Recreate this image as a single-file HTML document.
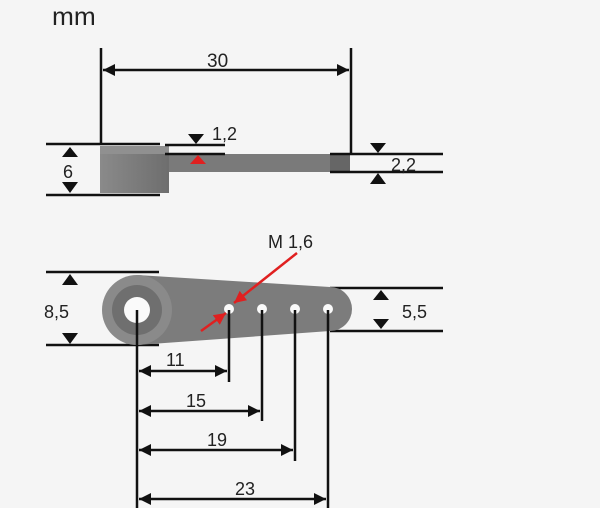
<!DOCTYPE html>
<html><head><style>
html,body{margin:0;padding:0;background:#f5f5f5;}
svg{display:block;}
text{font-family:"Liberation Sans",sans-serif;fill:#222;}
</style></head><body>
<svg width="600" height="508" viewBox="0 0 600 508" xmlns="http://www.w3.org/2000/svg">
<defs>
<marker id="ab" viewBox="0 0 10 10" refX="10" refY="5" markerWidth="12" markerHeight="12" orient="auto-start-reverse" markerUnits="userSpaceOnUse"><path d="M0,0 L10,5 L0,10 z" fill="#111"/></marker>
<marker id="rr" viewBox="0 0 10 10" refX="10" refY="5" markerWidth="12" markerHeight="12" orient="auto" markerUnits="userSpaceOnUse"><path d="M0,0 L10,5 L0,10 z" fill="#e02020"/></marker>
<linearGradient id="gb" x1="0" x2="1"><stop offset="0" stop-color="#8a8a8a"/><stop offset="1" stop-color="#6e6e6e"/></linearGradient>
</defs>
<rect width="600" height="508" fill="#f5f5f5"/>
<text x="52" y="25" font-size="25" transform="scale(1.05,1)" style="transform-origin:52px 25px">mm</text>

<g stroke="#111" stroke-width="2.5" fill="none">
<line x1="101" y1="48" x2="101" y2="143"/>
<line x1="351" y1="48" x2="351" y2="155"/>
<line x1="103" y1="70" x2="349" y2="70" marker-start="url(#ab)" marker-end="url(#ab)"/>
</g>
<text x="207" y="67" font-size="19">30</text>

<rect x="165" y="154" width="185" height="18" fill="#7a7a7a"/>
<rect x="330" y="154" width="20" height="18" fill="#666"/>
<rect x="100" y="146" width="69" height="47" fill="url(#gb)"/>
<rect x="100" y="146" width="69" height="8" fill="#909090"/>
<g stroke="#111" stroke-width="2.5">
<line x1="46" y1="144" x2="160" y2="144"/>
<line x1="46" y1="195" x2="160" y2="195"/>
<line x1="165" y1="145" x2="225" y2="145"/>
<line x1="165" y1="154" x2="225" y2="154"/>
<line x1="330" y1="154" x2="443" y2="154"/>
<line x1="330" y1="172" x2="443" y2="172"/>
<line x1="46" y1="272" x2="159" y2="272"/>
<line x1="46" y1="345" x2="159" y2="345"/>
<line x1="330" y1="288" x2="443" y2="288"/>
<line x1="330" y1="331" x2="443" y2="331"/>
</g>
<g fill="#111">
<path d="M62,157 L78,157 L70,147 z"/>
<path d="M62,182 L78,182 L70,193 z"/>
<path d="M188,134 L204,134 L196,144 z"/>
<path d="M370,143 L386,143 L378,153 z"/>
<path d="M370,184 L386,184 L378,173 z"/>
<path d="M62,285 L78,285 L70,274 z"/>
<path d="M62,333 L78,333 L70,344 z"/>
<path d="M373,300 L389,300 L381,290 z"/>
<path d="M373,319 L389,319 L381,329 z"/>
</g>
<path d="M190,164 L206,164 L198,155 z" fill="#e02020"/>
<text x="212" y="140" font-size="18">1,2</text>
<text x="391" y="171" font-size="18">2,2</text>
<text x="63" y="178" font-size="18">6</text>

<path d="M137,275 L330,287 A22,22 0 0 1 330,331 L137,345 z" fill="#7c7c7c"/>
<circle cx="137" cy="310" r="35" fill="#8a8a8a"/>
<circle cx="137" cy="310" r="25" fill="#6f6f6f"/>
<circle cx="137" cy="310" r="13" fill="#fafafa"/>
<g fill="#fafafa"><circle cx="229" cy="309" r="5"/><circle cx="262" cy="309" r="5"/><circle cx="295" cy="309" r="5"/><circle cx="328" cy="309" r="5"/></g>
<text x="44" y="318" font-size="18">8,5</text>
<text x="402" y="318" font-size="18">5,5</text>
<text x="268" y="248" font-size="18">M 1,6</text>
<line x1="297" y1="253" x2="234" y2="303" stroke="#e02020" stroke-width="2.5" marker-end="url(#rr)"/>
<line x1="201" y1="331" x2="226" y2="313" stroke="#e02020" stroke-width="2.5" marker-end="url(#rr)"/>

<g stroke="#111" stroke-width="2.5" fill="none">
<line x1="137" y1="310" x2="137" y2="508"/>
<line x1="229" y1="310" x2="229" y2="382"/>
<line x1="262" y1="310" x2="262" y2="421"/>
<line x1="295" y1="310" x2="295" y2="461"/>
<line x1="328" y1="310" x2="328" y2="508"/>
<line x1="139" y1="371" x2="227" y2="371" marker-start="url(#ab)" marker-end="url(#ab)"/>
<line x1="139" y1="411" x2="260" y2="411" marker-start="url(#ab)" marker-end="url(#ab)"/>
<line x1="139" y1="450" x2="293" y2="450" marker-start="url(#ab)" marker-end="url(#ab)"/>
<line x1="139" y1="499" x2="326" y2="499" marker-start="url(#ab)" marker-end="url(#ab)"/>
</g>
<text x="166" y="366" font-size="18">11</text>
<text x="186" y="407" font-size="18">15</text>
<text x="207" y="446" font-size="18">19</text>
<text x="235" y="495" font-size="18">23</text>
</svg>
</body></html>
